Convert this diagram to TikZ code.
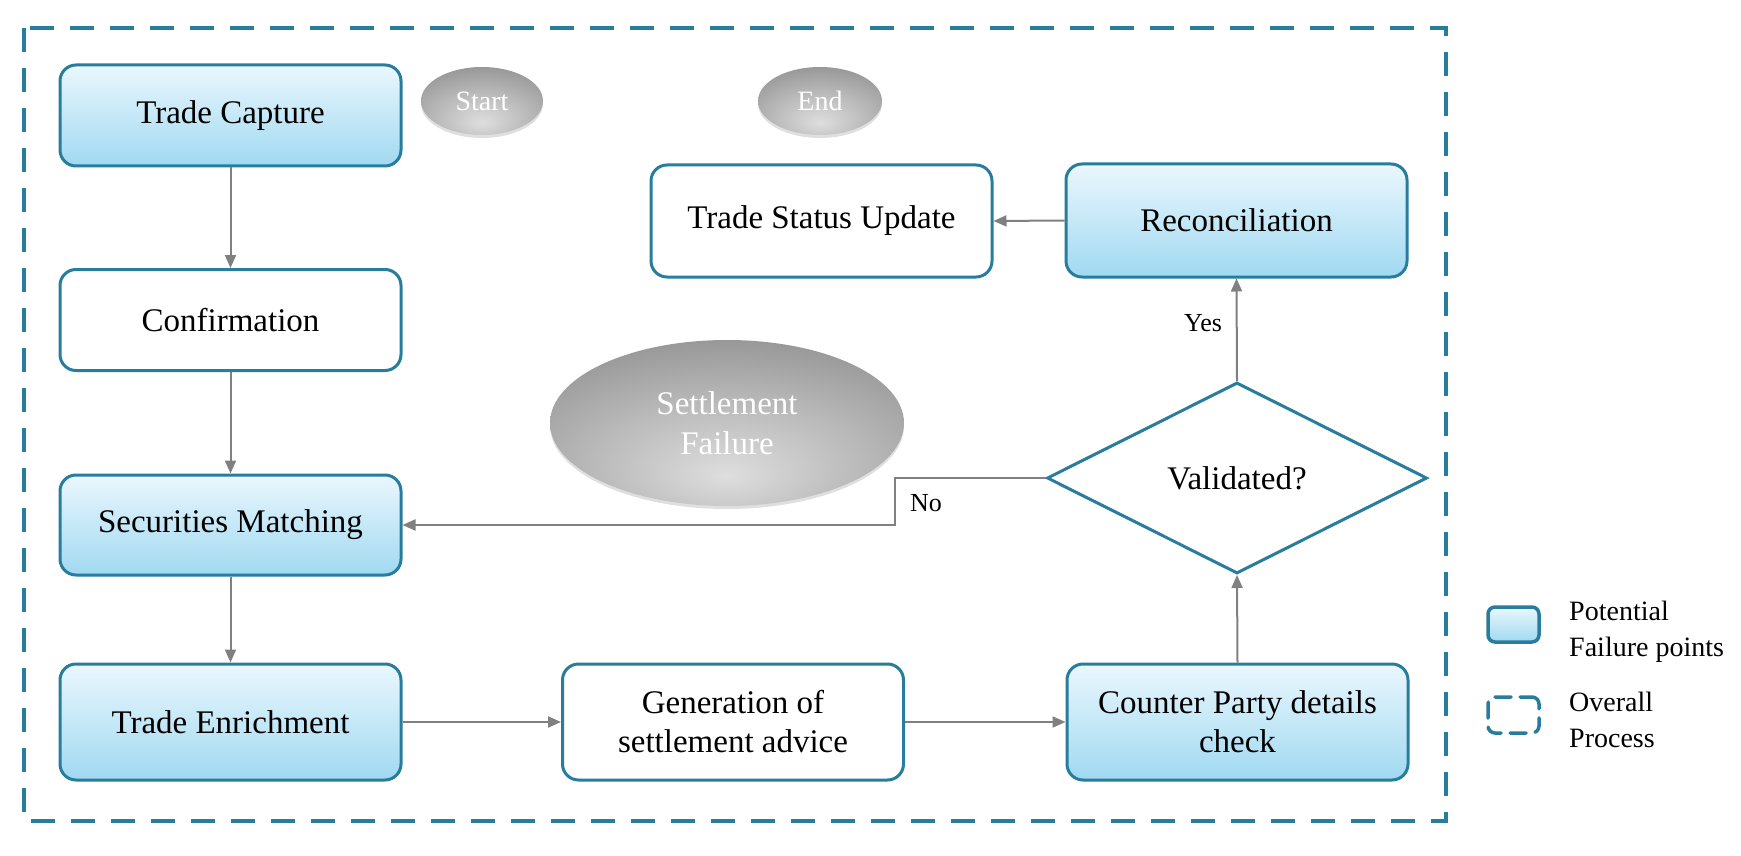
\documentclass[tikz,border=0pt]{standalone}
\usepackage{fontspec}
\setmainfont{Liberation Serif}
\usetikzlibrary{shapes.geometric,arrows.meta,shadows}
\definecolor{boxblue}{HTML}{287D9C}
\definecolor{lightblue}{HTML}{EAF7FD}
\definecolor{midblue}{HTML}{A0D9F1}
\definecolor{arrgray}{HTML}{808080}
\pgfdeclareradialshading{ellgray}{\pgfpoint{0bp}{-16bp}}{color(0bp)=(black!13); color(20bp)=(black!28); color(45bp)=(black!48); color(100bp)=(black!52)}
\tikzset{
  box/.style={draw=boxblue, line width=3pt, rounded corners=16pt, minimum width=341pt,
    minimum height=101pt, align=center, inner sep=0pt, fill=white,
    font=\fontsize{33}{39}\selectfont},
  failbox/.style={box, top color=lightblue, bottom color=midblue},
  arr/.style={draw=arrgray, line width=2pt, -{Triangle[length=13pt,width=11pt]}},
  oval/.style={ellipse, draw=none, shade, shading=ellgray, text=white, inner sep=0pt,
    drop shadow={shadow xshift=0pt, shadow yshift=-3pt, opacity=0.25}},
  lbl/.style={font=\fontsize{26}{30}\selectfont, inner sep=0pt},
  legtext/.style={font=\fontsize{28}{36}\selectfont, align=left, anchor=west, inner sep=0pt},
}
\begin{document}
\begin{tikzpicture}[x=1pt,y=-1pt]
\useasboundingbox (0,0) rectangle (1741,856);
% overall process border
\draw[boxblue, line width=3.5pt, dash pattern=on 24pt off 16pt] (24,28) rectangle (1446,821);

% nodes
\node[failbox] (tc) at (230.5,115.5) {Trade Capture};
\node[box] (conf) at (230.5,320) {Confirmation};
\node[failbox, minimum height=100pt] (sm) at (230.5,525) {Securities Matching};
\node[failbox, minimum height=116pt] (te) at (230.5,722) {Trade Enrichment};
\node[box, minimum height=116pt] (gen) at (733,722) {Generation of\\settlement advice};
\node[failbox, minimum height=116pt] (cp) at (1237.5,722) {Counter Party details\\check};
\node[box, minimum height=112pt] (tsu) at (821.5,221) {Trade Status Update};
\node[failbox, minimum height=113pt] (rec) at (1236.5,220.5) {Reconciliation};
\node[diamond, draw=boxblue, line width=3pt, fill=white, minimum width=380pt, minimum height=191pt,
  inner sep=0pt, font=\fontsize{33}{39}\selectfont] (dia) at (1237,478) {Validated?};

\node[oval, minimum width=122pt, minimum height=68pt, font=\fontsize{28}{32}\selectfont] (start) at (482,101) {Start};
\node[oval, minimum width=124pt, minimum height=68pt, font=\fontsize{28}{32}\selectfont] (end) at (820,101) {End};
\node[oval, minimum width=354pt, minimum height=166pt, align=center, font=\fontsize{33}{40}\selectfont] (sf) at (727,423) {Settlement\\Failure};

% connectors
\draw[arr] (tc.south) -- (conf.north);
\draw[arr] (conf.south) -- (sm.north);
\draw[arr] (sm.south) -- (te.north);
\draw[arr] (te.east) -- (gen.west);
\draw[arr] (gen.east) -- (cp.west);
\draw[arr] (cp.north) -- (dia.south);
\draw[arr] (dia.north) -- (rec.south);
\draw[arr] (rec.west) -- (tsu.east);
\coordinate (nb) at (895,478);
\draw[arr] (dia.west) -- (nb) -- (nb |- sm.east) -- (sm.east);
\node[lbl] (yes) at (1203,323) {Yes};
\node[lbl] (no) at (926,503) {No};

% legend
\node[draw=boxblue, line width=3.5pt, rounded corners=7pt, top color=lightblue, bottom color=midblue,
  minimum width=51pt, minimum height=35pt, inner sep=0pt] (legfail) at (1513.5,624.5) {};
\node[draw=boxblue, line width=3.5pt, rounded corners=7pt, dash pattern=on 16pt off 9pt, dash phase=4pt,
  line cap=round, minimum width=51pt, minimum height=36pt, inner sep=0pt] (legproc) at (1513.5,715) {};
\node[legtext] (legfailtxt) at (1569,631.5) {Potential\\Failure points};
\node[legtext] (legproctxt) at (1569,719.5) {Overall\\Process};
\end{tikzpicture}
\end{document}
